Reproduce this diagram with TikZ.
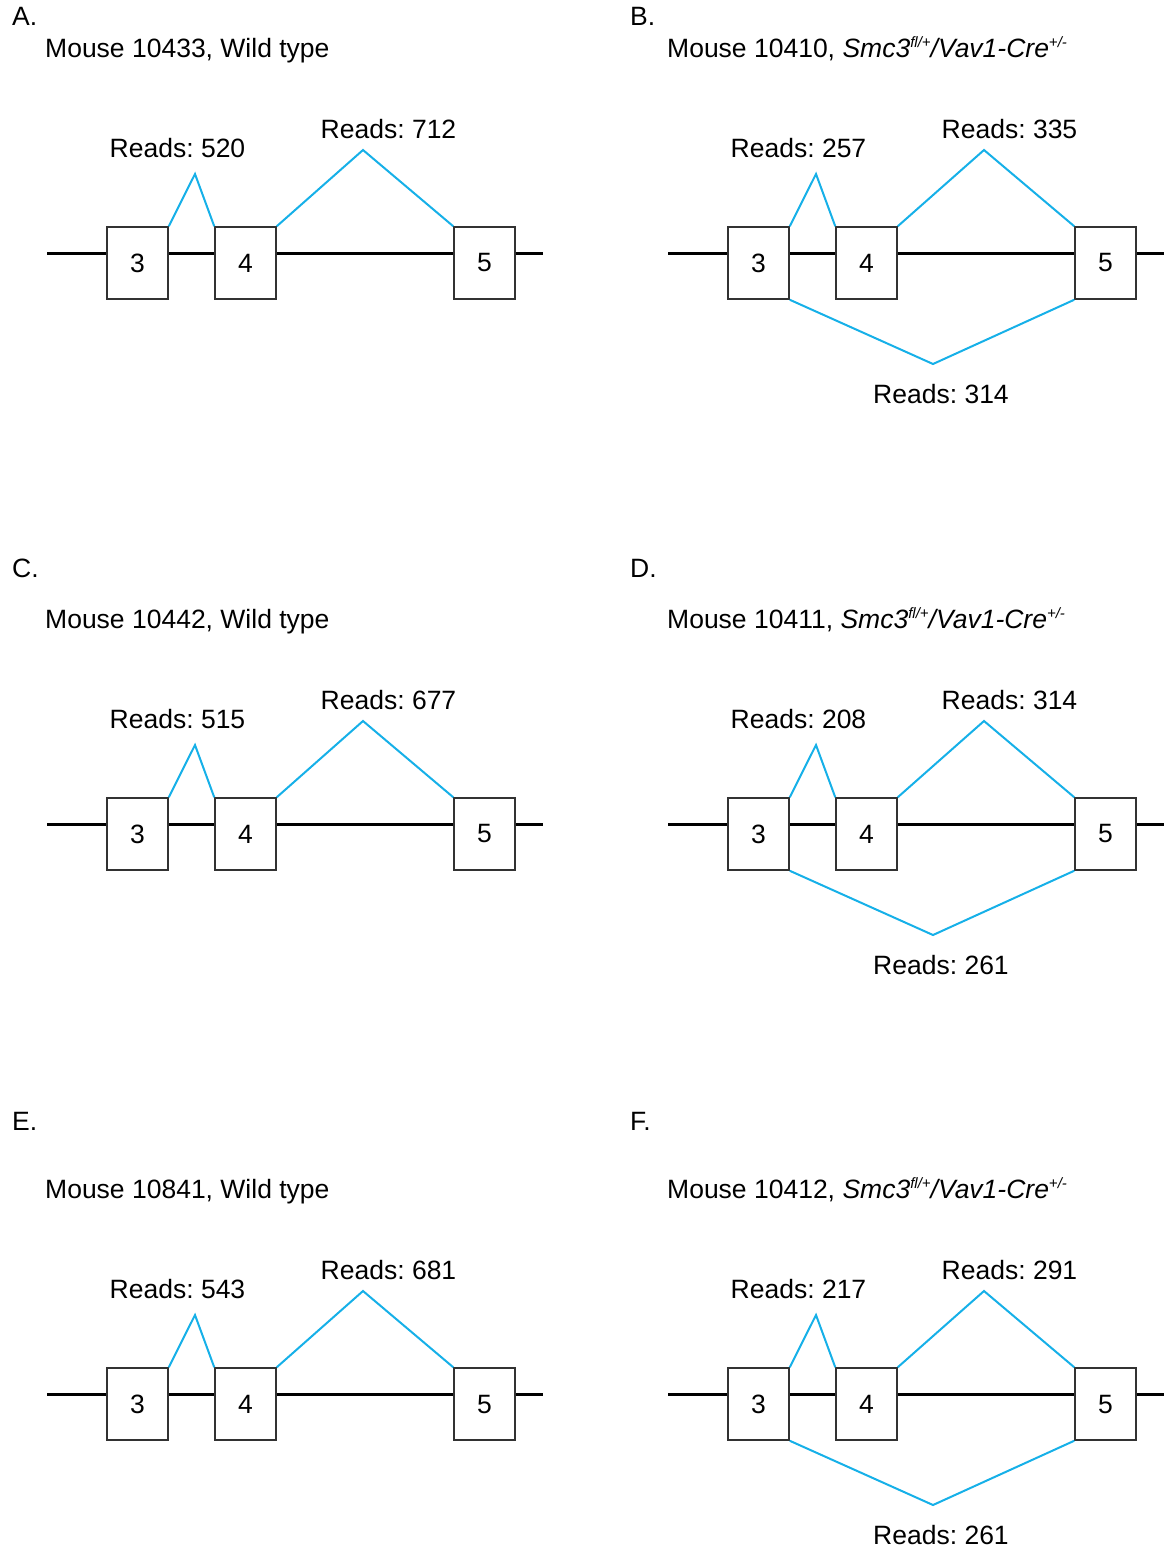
\documentclass[tikz,border=0pt]{standalone}
\usepackage{fontspec}
\setmainfont{Liberation Sans}
\frenchspacing
\definecolor{junc}{RGB}{22,176,232}
\definecolor{boxline}{RGB}{50,50,50}
\tikzset{
  exon/.style={draw=boxline, line width=1.5pt, fill=white, minimum width=61pt, minimum height=72pt, inner sep=0pt, font=\fontsize{26.5}{31}\selectfont},
  backbone/.style={line width=3pt, black},
  junction/.style={line width=2pt, junc, line join=miter},
  readlbl/.style={anchor=base, inner sep=0pt, font=\fontsize{26.5}{31}\selectfont},
  titlelbl/.style={anchor=base west, inner sep=0pt, font=\fontsize{26.5}{31}\selectfont},
  letterlbl/.style={anchor=base west, inner sep=0pt, font=\fontsize{26.5}{31}\selectfont}
}
% #1 prefix, #2 reads 3-4, #3 reads 4-5
\newcommand\exonrow[3]{%
  \coordinate (#1L) at (47,253);
  \coordinate (#1R) at (543,253);
  \draw[backbone] (#1L) -- (#1R);
  \node[exon] (#1e3) at (137.5,263) {3};
  \node[exon] (#1e4) at (245.5,263) {4};
  \node[exon] (#1e5) at (484.5,263) {5};
  \coordinate (#1p34) at (195,174);
  \coordinate (#1p45) at (363,150);
  \draw[junction] (#1e3.north east) -- (#1p34) -- (#1e4.north west);
  \draw[junction] (#1e4.north east) -- (#1p45) -- (#1e5.north west);
  \node[readlbl] (#1r34) at (177.5,157) {Reads: #2};
  \node[readlbl] (#1r45) at (388.5,138) {Reads: #3};
}
% #1 prefix, #2 reads 3-5
\newcommand\skiprow[2]{%
  \coordinate (#1p35) at (312,364);
  \draw[junction] (#1e3.south east) -- (#1p35) -- (#1e5.south west);
  \node[readlbl] (#1r35) at (320,403) {Reads: #2};
}
\newcommand\supsm[1]{\raisebox{9.5pt}{\fontsize{15}{15}\selectfont #1}}
\newcommand\mutant{\textit{Smc3\supsm{fl/+}/Vav1-Cre\supsm{+/-}}}
\begin{document}
\begin{tikzpicture}[x=1pt,y=-1pt]
\useasboundingbox (0,0) rectangle (1165,1551);
% Panel A
\node[letterlbl] (la) at (12,25) {A.};
\begin{scope}
  \node[titlelbl] (ta) at (45,57) {Mouse 10433, Wild type};
  \exonrow{a}{520}{712}
\end{scope}
% Panel B
\node[letterlbl] (lb) at (630,25) {B.};
\begin{scope}[shift={(621,0)}]
  \node[titlelbl] (tb) at (46,57) {Mouse 10410, \mutant};
  \exonrow{b}{257}{335}
  \skiprow{b}{314}
\end{scope}
% Panel C
\node[letterlbl] (lc) at (12,577) {C.};
\begin{scope}[shift={(0,571)}]
  \node[titlelbl] (tc) at (45,57) {Mouse 10442, Wild type};
  \exonrow{c}{515}{677}
\end{scope}
% Panel D
\node[letterlbl] (ld) at (630,577) {D.};
\begin{scope}[shift={(621,571)}]
  \node[titlelbl] (td) at (46,57) {Mouse 10411, \mutant};
  \exonrow{d}{208}{314}
  \skiprow{d}{261}
\end{scope}
% Panel E
\node[letterlbl] (le) at (12,1130) {E.};
\begin{scope}[shift={(0,1141)}]
  \node[titlelbl] (te) at (45,57) {Mouse 10841, Wild type};
  \exonrow{e}{543}{681}
\end{scope}
% Panel F
\node[letterlbl] (lf) at (630,1130) {F.};
\begin{scope}[shift={(621,1141)}]
  \node[titlelbl] (tf) at (46,57) {Mouse 10412, \mutant};
  \exonrow{f}{217}{291}
  \skiprow{f}{261}
\end{scope}
\end{tikzpicture}
\end{document}
